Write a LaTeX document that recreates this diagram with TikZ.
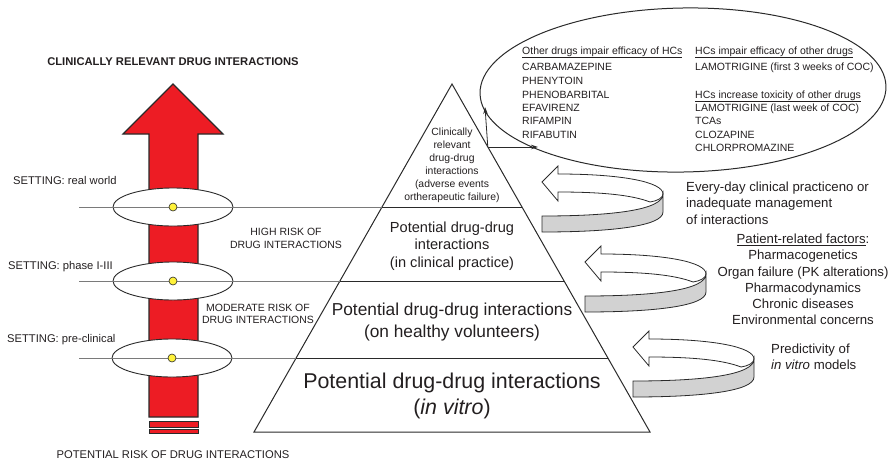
\documentclass[tikz,border=0pt]{standalone}
\usepackage{fontspec}
\setmainfont{Liberation Sans}
\usetikzlibrary{arrows.meta,shapes.geometric}
\definecolor{arrred}{HTML}{ED1C24}
\definecolor{edge}{HTML}{2A2A2A}
\definecolor{txt}{HTML}{231F20}
\definecolor{linegray}{HTML}{7A7A7A}
\definecolor{dotyellow}{HTML}{FFF23A}
\definecolor{ribgray}{HTML}{D2D2D2}
\tikzset{
  lbl/.style={font=\fontsize{11.2}{13}\selectfont, inner sep=0pt, text=txt},
  etxt/.style={font=\fontsize{10.5}{13}\selectfont, inner sep=0pt, anchor=base west, text=txt},
  rtxt/.style={font=\fontsize{13.2}{16.3}\selectfont, inner sep=0pt, text=txt},
  ttxt/.style={inner sep=0pt, align=center, text=txt},
  gline/.style={draw=linegray, line width=0.8pt},
  tri/.style={draw=edge, line width=1pt},
  connector/.style={draw=edge, line width=0.8pt, -{Stealth[length=7pt,width=4.5pt]}},
  ringell/.style={ellipse, draw=edge, fill=white, line width=0.9pt, inner sep=0pt, minimum width=120pt, minimum height=38pt},
  ydot/.style={circle, draw=edge, fill=dotyellow, minimum size=8pt, inner sep=0pt, line width=0.6pt},
  ribbon/.pic={
    \filldraw[fill=white, draw=edge, line width=0.8pt]
      (0,0) -- (16,-16) -- (16,-8) .. controls (80,-8) and (121,0) .. (121,12)
      .. controls (121,16) and (115,19) .. (108,20)
      .. controls (90,13) and (60,10) .. (16,10) -- (16,19) -- cycle;
    \filldraw[fill=ribgray, draw=edge, line width=0.8pt]
      (0,34) .. controls (70,34) and (121,28) .. (121,12) -- (121,30)
      .. controls (121,44) and (70,50) .. (0,50) -- cycle;
  }
}
\begin{document}
\begin{tikzpicture}[x=1pt,y=-1pt]
\useasboundingbox (0,0) rectangle (891,461);

% ---------------- red arrow ----------------
\filldraw[fill=arrred, draw=edge, line width=1.1pt]
  (173,84) -- (223,134) -- (198,134) -- (198,417) -- (149,417) -- (149,134) -- (123,134) -- cycle;
\filldraw[fill=arrred, draw=edge, line width=1pt] (149,421) rectangle (198,427);
\filldraw[fill=arrred, draw=edge, line width=1pt] (149,429.5) rectangle (198,433);

% ---------------- triangle ----------------
\coordinate (A) at (254,432);
\coordinate (B) at (452,84);
\coordinate (C) at (650,432);
\coordinate (L1) at (382,207);   \coordinate (R1) at (522,207);
\coordinate (L2) at (340,281);   \coordinate (R2) at (564,281);
\coordinate (L3) at (296,358);   \coordinate (R3) at (608,358);
\coordinate (P) at (487.8,147);
\draw[tri, line join=miter] (A) -- (B) -- (C) -- cycle;
\draw[tri] (L1) -- (R1);
\draw[tri] (L2) -- (R2);
\draw[tri] (L3) -- (R3);

% ---------------- settings ellipses and lines ----------------
\coordinate (g1) at (79,207);
\coordinate (g2) at (79,281);
\coordinate (g3) at (79,358);
\node[ringell] (e1) at (173,207) {};
\node[ringell] (e2) at (173,281) {};
\node[ringell] (e3) at (172,358) {};
\draw[gline] (g1) -- (L1);
\draw[gline] (g2) -- (L2);
\draw[gline] (g3) -- (L3);
\node[ydot] (d1) at (173,207) {};
\node[ydot] (d2) at (173,281) {};
\node[ydot] (d3) at (172,358) {};

% ---------------- left labels ----------------
\node[lbl, font=\bfseries\fontsize{11.2}{13}\selectfont] (title) at (173,62) {CLINICALLY RELEVANT DRUG INTERACTIONS};
\node[lbl, anchor=west] (s1) at (13,180) {SETTING: real world};
\node[lbl, anchor=west] (s2) at (8,267) {SETTING: phase I-III};
\node[lbl, anchor=west] (s3) at (7,340) {SETTING: pre-clinical};
\node[lbl, align=center, font=\fontsize{10.5}{13}\selectfont] (high) at (286,238.5) {HIGH RISK OF\\DRUG INTERACTIONS};
\node[lbl, align=center, font=\fontsize{10.5}{12.5}\selectfont] (mod) at (258,314) {MODERATE RISK OF\\DRUG INTERACTIONS};
\node[lbl] (pot) at (173,455) {POTENTIAL RISK OF DRUG INTERACTIONS};

% ---------------- triangle texts ----------------
\node[ttxt, font=\fontsize{10.4}{13}\selectfont] (t1) at (452,165) {Clinically\\relevant\\drug-drug\\interactions\\(adverse events\\ortherapeutic failure)};
\node[ttxt, font=\fontsize{14.6}{17.5}\selectfont] (t2) at (452,246) {Potential drug-drug\\interactions\\(in clinical practice)};
\node[ttxt, font=\fontsize{17.3}{22}\selectfont] (t3) at (452,322) {Potential drug-drug interactions\\(on healthy volunteers)};
\node[ttxt, font=\fontsize{21.4}{26}\selectfont] (t4) at (452,396) {Potential drug-drug interactions\\(\textit{in vitro})};

% ---------------- big ellipse ----------------
\node[ellipse, draw=edge, line width=1pt, inner sep=0pt, minimum width=406pt, minimum height=164pt, rotate=1] (big) at (683,90) {};
\coordinate (up) at (485,107);
\coordinate (rt) at (538,147);
\draw[connector] (P) -- (up);
\draw[connector] (P) -- (rt);

\node[etxt] (h1) at (522,54) {\underline{Other drugs impair efficacy of HCs}};
\node[etxt] (a1) at (522,70) {CARBAMAZEPINE};
\node[etxt] (a2) at (522,84) {PHENYTOIN};
\node[etxt] (a3) at (522,98) {PHENOBARBITAL};
\node[etxt] (a4) at (522,111) {EFAVIRENZ};
\node[etxt] (a5) at (522,124) {RIFAMPIN};
\node[etxt] (a6) at (522,138) {RIFABUTIN};
\node[etxt] (h2) at (695,54) {\underline{HCs impair efficacy of other drugs}};
\node[etxt] (b1) at (695,70) {LAMOTRIGINE (first 3 weeks of COC)};
\node[etxt] (h3) at (695,98) {\underline{HCs increase toxicity of other drugs}};
\node[etxt] (b2) at (695,111) {LAMOTRIGINE (last week of COC)};
\node[etxt] (b3) at (695,124) {TCAs};
\node[etxt] (b4) at (695,138) {CLOZAPINE};
\node[etxt] (b5) at (695,151) {CHLORPROMAZINE};

% ---------------- ribbon arrows ----------------
\pic at (542,182) {ribbon};
\pic at (585,262) {ribbon};
\pic at (633,347) {ribbon};

% ---------------- right texts ----------------
\node[rtxt, anchor=west, align=left] (r1) at (686,203) {Every-day clinical practiceno or\\inadequate management\\of interactions};
\node[rtxt, align=center] (r2) at (803,279.5) {\underline{Patient-related factors}:\\Pharmacogenetics\\Organ failure (PK alterations)\\Pharmacodynamics\\Chronic diseases\\Environmental concerns};
\node[rtxt, anchor=west, align=left] (r3) at (771,357) {Predictivity of\\\textit{in vitro} models};
\end{tikzpicture}
\end{document}
